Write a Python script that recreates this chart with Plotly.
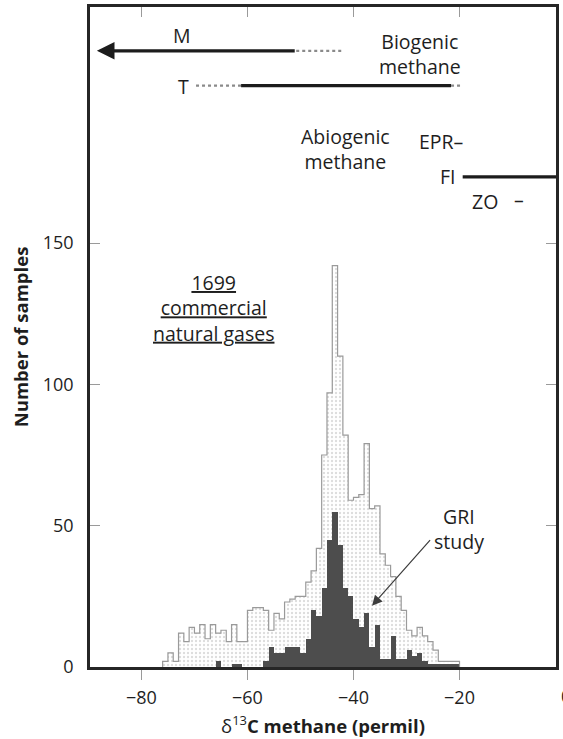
import numpy as np
import plotly.graph_objects as go

# 1-permil bins of methane d13C, left edges
bin_left = list(range(-76, -20))

# 1699 commercial natural gases (counts per bin)
total_counts = [2, 5, 2, 12, 9, 14, 12, 15, 10, 15,
                12, 13, 9, 15, 9, 9, 20, 21, 21, 20,
                13, 19, 17, 23, 24, 25, 25, 30, 34, 42,
                75, 97, 142, 110, 82, 59, 60, 61, 79, 56,
                57, 40, 36, 32, 25, 20, 13, 11, 14, 11,
                9, 6, 2, 2, 2, 2]

# GRI study samples (counts per bin)
gri_counts = [0, 0, 0, 0, 0, 0, 0, 0, 0, 0,
              2, 0, 0, 1, 1, 0, 0, 0, 0, 2,
              7, 5, 5, 7, 7, 7, 5, 10, 20, 18,
              28, 45, 55, 43, 28, 25, 17, 14, 19, 7,
              15, 3, 3, 11, 3, 3, 6, 4, 5, 2,
              1, 1, 1, 1, 1, 1]

# d13C ranges of methane sources (permil)
m_solid = [-88.4, -50.8]
m_dotted = [-50.8, -42.1]
t_dotted_low = [-69.7, -61.2]
t_solid = [-61.2, -21.6]
t_dotted_high = [-21.6, -19.7]
fi_solid = [-19.4, 0.0]

x_ticks = [-80, -60, -40, -20]
y_ticks = [0, 50, 100, 150]

X_RANGE = [-89.7, -1.8]
Y_RANGE = [0, 233.5]

FONT = "Open Sans"
TXT = "#1e1e1e"
TICKC = "#9a9a9a"
AXC = "#262626"
ANN_SIZE = 19.5
TICK_SIZE = 18

edges = np.array(bin_left + [bin_left[-1] + 1], dtype=float)
centers = (edges[:-1] + edges[1:]) / 2

fig = go.Figure()

# stippled histogram of all gases
fig.add_trace(go.Bar(
    x=centers, y=total_counts, width=1.0,
    marker=dict(color="white", line=dict(width=0),
                pattern=dict(shape=".", fillmode="overlay", fgcolor="#bcbcbc",
                             size=4, solidity=0.28)),
    showlegend=False, hoverinfo="skip"))

# GRI study histogram
fig.add_trace(go.Bar(
    x=centers, y=gri_counts, width=1.0,
    marker=dict(color="#4d4d4d", line=dict(width=0)),
    showlegend=False, hoverinfo="skip"))

# stepped outline of the full histogram
step_x = np.concatenate([[edges[0]], edges[:-1], [edges[-1], edges[-1]]])
step_y = np.concatenate([[0], total_counts, [total_counts[-1], 0]])
fig.add_trace(go.Scatter(
    x=step_x, y=step_y, mode="lines", line_shape="hv",
    line=dict(color="#9a9a9a", width=1.2),
    xaxis="x2", yaxis="y", showlegend=False, hoverinfo="skip"))

# source ranges
M_LEVEL, T_LEVEL, FI_LEVEL = 218.0, 205.7, 173.4


def seg(xr, lvl, dotted):
    fig.add_trace(go.Scatter(
        x=xr, y=[lvl, lvl], mode="lines",
        line=dict(color="#8a8a8a" if dotted else "#1c1c1c",
                  width=2.2 if dotted else 3.2,
                  dash="dot" if dotted else "solid"),
        showlegend=False, hoverinfo="skip"))


seg(m_dotted, M_LEVEL, True)
seg(t_dotted_low, T_LEVEL, True)
seg(t_solid, T_LEVEL, False)
seg(t_dotted_high, T_LEVEL, True)
seg(fi_solid, FI_LEVEL, False)

annotations = []


def label(text, x, y, size=ANN_SIZE, xanchor="center", **kw):
    annotations.append(dict(text=text, x=x, y=y, xref="x", yref="y",
                            showarrow=False, xanchor=xanchor, yanchor="middle",
                            font=dict(family=FONT, size=size, color=TXT), **kw))


# arrow for the M range (extends beyond the axis)
annotations.append(dict(x=m_solid[0], y=M_LEVEL, ax=m_solid[1], ay=M_LEVEL,
                        xref="x", yref="y", axref="x", ayref="y", text="",
                        showarrow=True, arrowhead=2, arrowsize=1.1,
                        arrowwidth=3.2, arrowcolor="#1c1c1c"))

label("M", -72.4, 223.5)
label("T", -72.1, 205.5)
label("Biogenic<br>methane", -27.4, 217)
label("Abiogenic<br>methane", -41.5, 183.2)
label("EPR\u2013", -23.5, 186)
label("FI", -20.2, FI_LEVEL, xanchor="right")
label("ZO", -15.2, 164.8)
label("\u2013", -8.7, 165.5)
label("<u>1699</u><br><u>commercial</u><br><u>natural gases</u>", -66.4, 127)
label("GRI<br>study", -20.1, 49)

# pointer to the GRI study bars
annotations.append(dict(x=-36.5, y=21.7, ax=-25.3, ay=45.4,
                        xref="x", yref="y", axref="x", ayref="y", text="",
                        showarrow=True, arrowhead=2, arrowsize=1.7,
                        arrowwidth=1.2, arrowcolor="#3c3c3c"))

# the "0" tick label sits just past the right edge of the axis range
annotations.append(dict(text="0", xref="paper", yref="paper",
                        x=(0 - X_RANGE[0]) / (X_RANGE[1] - X_RANGE[0]), y=0,
                        xanchor="center", yanchor="top", yshift=-15,
                        showarrow=False,
                        font=dict(family=FONT, size=TICK_SIZE, color=TXT)))

fig.update_layout(
    width=563, height=739,
    margin=dict(l=90, r=4, t=5, b=72),
    paper_bgcolor="white", plot_bgcolor="white",
    barmode="overlay", bargap=0,
    font=dict(family=FONT, color=TXT),
    annotations=annotations,
    xaxis=dict(range=X_RANGE, tickvals=x_ticks, ticks="outside", ticklen=10,
               tickwidth=1, tickcolor=TICKC, showline=True, linewidth=2.5,
               linecolor=AXC, mirror=True, showgrid=False, zeroline=False,
               tickfont=dict(family=FONT, size=TICK_SIZE, color=TXT),
               ticklabelstandoff=3,
               title=dict(text="\u03b4<sup>13</sup><b>C methane (permil)</b>",
                          font=dict(family=FONT, size=18.5, color=TXT),
                          standoff=12)),
    xaxis2=dict(range=X_RANGE, overlaying="x", side="top", anchor="y",
                tickvals=x_ticks, ticks="inside", ticklen=10, tickwidth=1,
                tickcolor=TICKC, showticklabels=False, showline=False,
                showgrid=False, zeroline=False),
    yaxis=dict(range=Y_RANGE, tickvals=y_ticks, ticks="inside", ticklen=10,
               tickwidth=1, tickcolor=TICKC, showline=True, linewidth=2.5,
               linecolor=AXC, mirror="ticks", showgrid=False, zeroline=False,
               tickfont=dict(family=FONT, size=TICK_SIZE, color=TXT),
               ticklabelstandoff=10,
               title=dict(text="<b>Number of samples</b>",
                          font=dict(family=FONT, size=18.5, color=TXT),
                          standoff=10)),
)

fig.write_html("out.html")
